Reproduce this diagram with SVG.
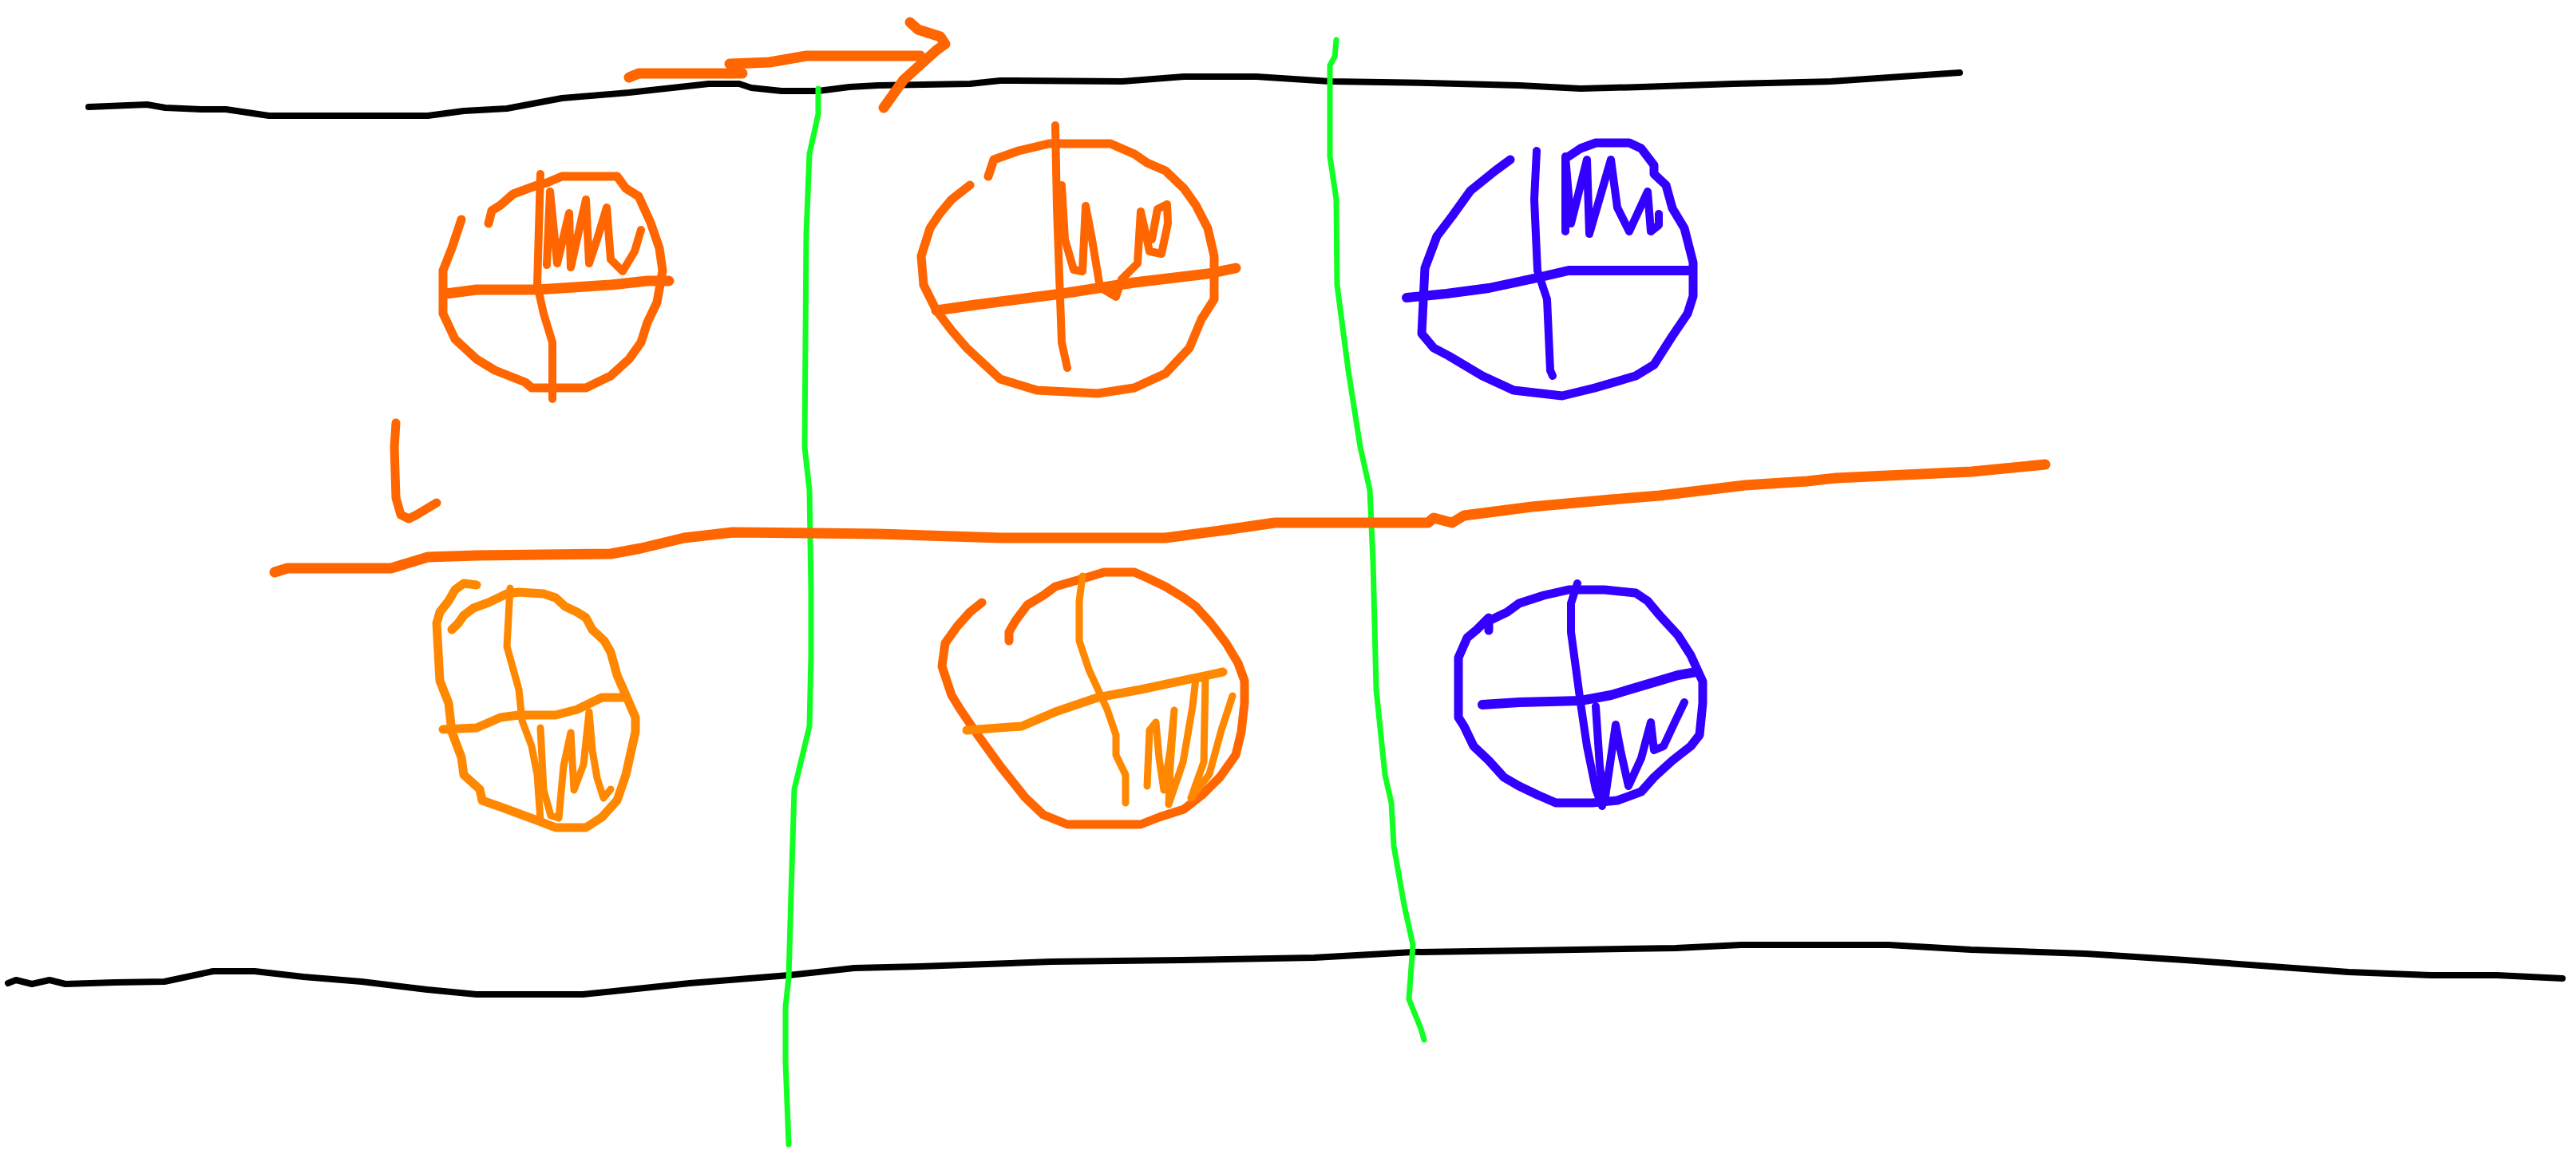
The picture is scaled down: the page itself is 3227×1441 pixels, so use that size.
<svg xmlns="http://www.w3.org/2000/svg" width="3227" height="1441" viewBox="0 0 3227 1441">
<style>
path{fill:none;stroke-linecap:round;stroke-linejoin:round}
.k{stroke:#000;stroke-width:8}
.g{stroke:#11ff22;stroke-width:7}
.o{stroke:#ff6600;stroke-width:11}
.oT{stroke:#ff6600;stroke-width:13}
.oS{stroke:#ff6600;stroke-width:10}
.l{stroke:#ff8800;stroke-width:11}
.lS{stroke:#ff8800;stroke-width:9}
.b{stroke:#3300ff;stroke-width:11}
.bT{stroke:#3300ff;stroke-width:12}
.bS{stroke:#3300ff;stroke-width:10}
</style>
<rect width="3227" height="1441" fill="#fff"/>
<g id="lines">
<path class="k" d="M111 134 L184 131 L207 135 L252 137 L283 137 L337 145 L536 145 L581 139 L635 136 L704 123 L788 116 L888 105 L926 105 L941 110 L979 114 L1025 114 L1064 109 L1100 107 L1215 105 L1253 101 L1406 102 L1483 96 L1574 96 L1666 102 L1789 104 L1903 107 L1980 111 L2056 109 L2171 105 L2294 102 L2367 97 L2455 91"/>
<path class="k" d="M10 1232 L20 1228 L40 1233 L62 1228 L82 1233 L144 1231 L206 1230 L267 1217 L319 1217 L380 1224 L453 1230 L535 1240 L597 1246 L730 1246 L864 1232 L988 1222 L1070 1213 L1152 1211 L1317 1205 L1481 1203 L1646 1200 L1770 1193 L1914 1191 L2099 1188 L2181 1184 L2366 1184 L2469 1190 L2613 1195 L2737 1203 L2942 1218 L3045 1222 L3128 1222 L3210 1226"/>
<path class="g" d="M1025 111 L1025 143 L1014 193 L1010 293 L1008 560 L1014 614 L1016 739 L1016 821 L1014 910 L995 989 L991 1120 L988 1225 L984 1262 L984 1330 L988 1434"/>
<path class="g" d="M1674 50 L1672 71 L1666 82 L1666 196 L1674 250 L1675 357 L1689 464 L1704 560 L1716 614 L1720 703 L1724 864 L1735 971 L1743 1006 L1746 1060 L1753 1100 L1759 1134 L1770 1184 L1765 1252 L1780 1289 L1784 1303"/>
<path class="oT" d="M344 717 L360 712 L490 712 L536 698 L597 696 L765 694 L803 687 L857 674 L918 667 L1100 669 L1253 674 L1460 674 L1528 665 L1597 655 L1789 655 L1796 649 L1819 655 L1834 646 L1919 635 L2018 626 L2079 621 L2186 608 L2264 603 L2300 599 L2470 591 L2562 582"/>
<path class="oT" d="M788 97 L800 92 L930 92 L914 80 L964 78 L1010 70 L1153 70"/>
<path class="oT" d="M1140 28 L1150 37 L1178 46 L1184 55 L1173 63 L1132 100 L1107 135"/>
<path class="o" d="M496 530 L494 560 L496 624 L502 645 L512 650 L522 645 L547 630"/>
</g>
<g id="circle-top-left">
<path class="o" d="M578 275 L566 311 L555 339 L555 393 L570 425 L597 450 L620 464 L658 479 L666 486 L734 486 L765 471 L788 450 L803 429 L811 404 L823 379 L830 339 L826 311 L815 279 L800 246 L784 236 L773 221 L704 221 L685 229 L673 232 L643 243 L627 257 L616 264 L612 280"/>
<path class="oS" d="M677 218 L673 357 L681 393 L692 429 L692 500"/>
<path class="oT" d="M559 368 L597 363 L673 363 L765 357 L811 352 L838 352"/>
<path class="oS" d="M685 332 L689 240 L698 330 L713 267 L715 335 L734 250 L738 330 L748 300 L760 260 L765 325 L780 340 L795 315 L803 288"/>
</g>
<g id="circle-top-middle">
<path class="o" d="M1215 232 L1192 250 L1177 268 L1165 286 L1154 321 L1157 357 L1173 389 L1192 414 L1211 436 L1226 450 L1253 475 L1299 489 L1375 493 L1421 486 L1460 468 L1490 436 L1505 400 L1521 375 L1521 321 L1513 286 L1498 257 L1483 236 L1460 214 L1437 204 L1421 193 L1391 180 L1314 180 L1276 189 L1245 200 L1238 221"/>
<path class="oS" d="M1322 157 L1324 260 L1330 429 L1337 461"/>
<path class="oT" d="M1173 389 L1222 382 L1330 368 L1421 354 L1513 343 L1548 336"/>
<path class="oS" d="M1330 232 L1334 300 L1345 338 L1356 340 L1360 258 L1368 300 L1378 360 L1398 372 L1405 350 L1425 330 L1429 265 L1440 315 L1455 318 L1463 280 L1462 256 L1450 262 L1443 300"/>
</g>
<g id="circle-top-right">
<path class="b" d="M1892 200 L1873 214 L1842 239 L1819 271 L1800 296 L1785 336 L1781 418 L1796 436 L1815 446 L1857 471 L1896 489 L1957 496 L1998 486 L2049 471 L2072 457 L2095 421 L2114 393 L2121 371 L2121 329 L2110 286 L2095 261 L2087 232 L2072 218 L2072 207 L2056 186 L2041 179 L1999 179 L1980 186 L1965 196"/>
<path class="bS" d="M1925 189 L1922 250 L1926 339 L1938 375 L1942 464 L1945 471"/>
<path class="bT" d="M1762 373 L1812 368 L1865 361 L1926 348 L1965 339 L2118 339"/>
<path class="bS" d="M1961 290 L1961 196 L1968 280 L1988 200 L1991 293 L2018 200 L2026 260 L2041 290 L2064 240 L2068 290 L2078 282 L2078 268"/>
</g>
<g id="circle-bottom-left">
<path class="l" d="M597 733 L581 731 L570 739 L562 753 L551 767 L547 781 L551 853 L562 881 L566 917 L578 949 L581 971 L601 989 L604 1003 L635 1014 L673 1028 L696 1037 L734 1037 L754 1024 L773 1003 L784 971 L796 917 L796 899 L784 871 L773 846 L765 817 L757 803 L742 789 L734 774 L723 767 L708 760 L696 749 L681 744 L650 742 L635 744 L612 755 L593 762 L581 771 L574 781 L566 789"/>
<path class="lS" d="M639 737 L635 810 L650 864 L654 903 L666 935 L673 971 L677 1028"/>
<path class="l" d="M555 914 L597 912 L627 899 L650 896 L696 896 L723 889 L754 874 L780 874"/>
<path class="lS" d="M677 912 L681 990 L690 1022 L700 1025 L706 960 L715 918 L719 990 L731 958 L738 892 L742 940 L748 975 L756 1000 L765 989"/>
</g>
<g id="circle-bottom-middle">
<path class="o" d="M1230 755 L1215 767 L1199 785 L1184 806 L1180 835 L1192 871 L1203 889 L1222 917 L1253 960 L1284 999 L1307 1021 L1337 1033 L1429 1033 L1452 1024 L1483 1014 L1506 996 L1528 974 L1548 946 L1555 917 L1559 881 L1559 853 L1551 831 L1536 806 L1517 781 L1498 760 L1483 749 L1460 735 L1437 724 L1421 717 L1383 717 L1360 724 L1322 735 L1307 746 L1287 758 L1272 778 L1264 792 L1264 803"/>
<path class="lS" d="M1356 722 L1352 753 L1352 803 L1364 839 L1387 889 L1398 921 L1398 946 L1410 971 L1410 1006"/>
<path class="l" d="M1211 915 L1280 910 L1322 892 L1375 874 L1429 864 L1532 842"/>
<path class="lS" d="M1437 985 L1440 915 L1448 905 L1452 950 L1458 990 L1466 940 L1471 890 L1466 960 L1464 1008 L1482 955 L1494 885 L1498 850 L1510 850 L1508 955 L1492 1000 L1515 970 L1530 915 L1544 872"/>
</g>
<g id="circle-bottom-right">
<path class="b" d="M1865 790 L1865 778 L1888 767 L1903 756 L1934 746 L1965 739 L2010 739 L2049 743 L2064 753 L2079 771 L2102 796 L2118 821 L2133 854 L2133 881 L2129 921 L2118 935 L2095 953 L2072 974 L2056 992 L2026 1003 L1995 1006 L1949 1006 L1926 996 L1903 985 L1884 974 L1865 953 L1846 935 L1834 910 L1827 899 L1827 824 L1838 799 L1850 789 L1865 774"/>
<path class="bS" d="M1976 731 L1968 756 L1968 792 L1980 881 L1988 935 L1999 989 L2007 1010"/>
<path class="bT" d="M1857 883 L1903 880 L1980 878 L2018 871 L2102 846 L2125 842"/>
<path class="bS" d="M1999 885 L2004 960 L2010 1005 L2024 908 L2030 940 L2040 985 L2056 950 L2068 905 L2072 940 L2084 935 L2098 905 L2110 880"/>
</g>
</svg>
